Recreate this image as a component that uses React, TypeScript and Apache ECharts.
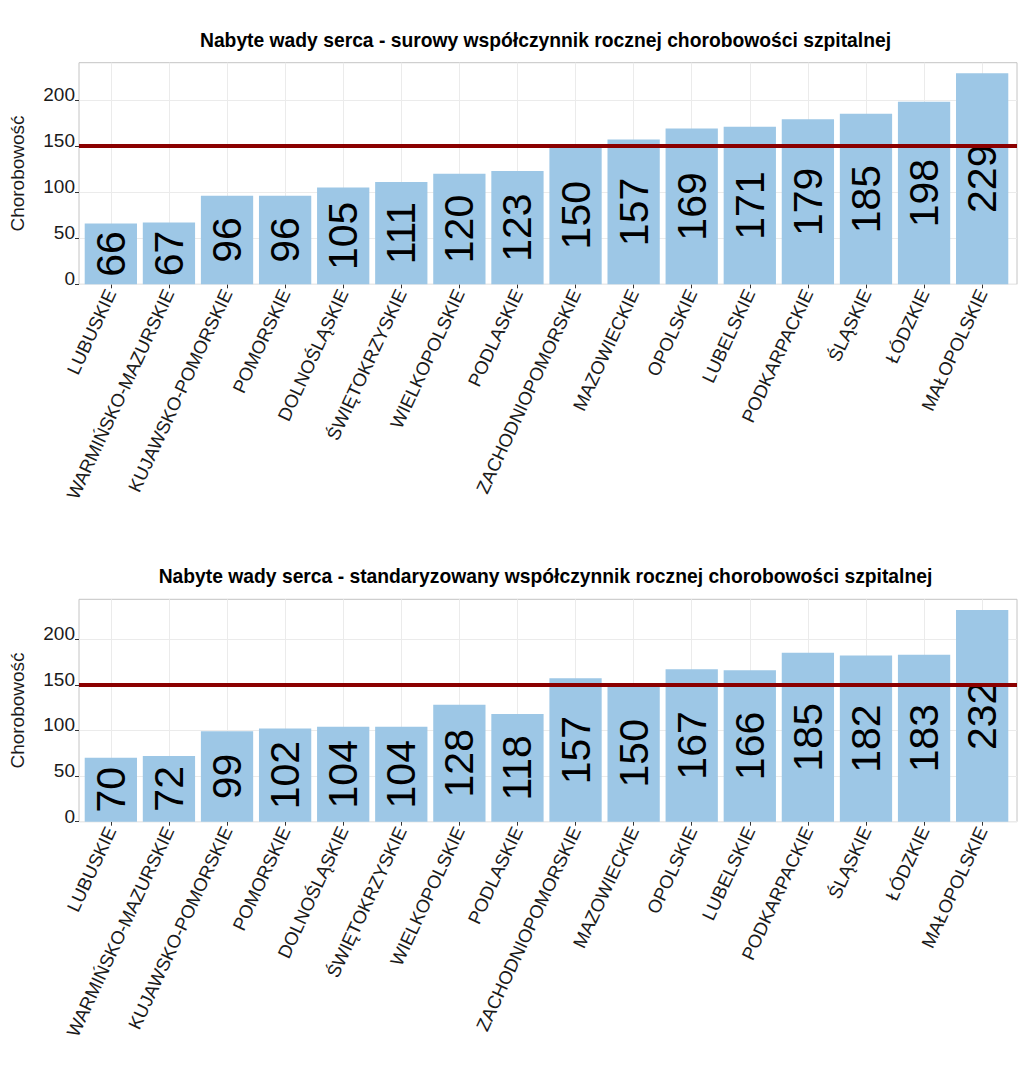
import React, { useEffect, useRef } from "react";
import * as echarts from "echarts";

const categories = [
  "LUBUSKIE",
  "WARMIŃSKO-MAZURSKIE",
  "KUJAWSKO-POMORSKIE",
  "POMORSKIE",
  "DOLNOŚLĄSKIE",
  "ŚWIĘTOKRZYSKIE",
  "WIELKOPOLSKIE",
  "PODLASKIE",
  "ZACHODNIOPOMORSKIE",
  "MAZOWIECKIE",
  "OPOLSKIE",
  "LUBELSKIE",
  "PODKARPACKIE",
  "ŚLĄSKIE",
  "ŁÓDZKIE",
  "MAŁOPOLSKIE",
];
const crudeValues = [66, 67, 96, 96, 105, 111, 120, 123, 150, 157, 169, 171, 179, 185, 198, 229];
const standardizedValues = [70, 72, 99, 102, 104, 104, 128, 118, 157, 150, 167, 166, 185, 182, 183, 232];
const yTicks = [0, 50, 100, 150, 200];
const referenceValue = 150;
const titleTop = "Nabyte wady serca - surowy współczynnik rocznej chorobowości szpitalnej";
const titleBottom = "Nabyte wady serca - standaryzowany współczynnik rocznej chorobowości szpitalnej";
const yName = "Chorobowość";

const FONT = "'Liberation Sans', Arial, Helvetica, sans-serif";
const BAR_COLOR = "#9dc7e6";
const RED = "#8b0000";
const GRID_COLOR = "#ebebeb";

const PLOT_LEFT = 76;
const PLOT_WIDTH = 941;
const BAND = PLOT_WIDTH / 16.2;

function panel(idx: number, top: number, height: number, values: number[], title: string) {
  const ymax = Math.max(...values) * 1.05;
  const gA = idx * 2;
  const gB = idx * 2 + 1;
  const grids = [
    { left: PLOT_LEFT, width: PLOT_WIDTH, top, height, show: true, borderColor: "#c4c4c4", borderWidth: 1, backgroundColor: "transparent" },
    { left: PLOT_LEFT + BAND * 0.1, width: PLOT_WIDTH - BAND * 0.2, top, height },
  ];
  const xAxes = [
    { gridIndex: gA, type: "value", min: 0, max: 1, show: false },
    {
      gridIndex: gB,
      type: "category",
      data: categories,
      axisLine: { show: false },
      axisTick: { show: true, alignWithLabel: true, length: 4, lineStyle: { color: "#333" } },
      splitLine: { show: false },
      axisLabel: { interval: 0, rotate: 65, fontSize: 18.5, color: "#1a1a1a", fontFamily: FONT, margin: 6 },
    },
  ];
  const yAxes = [
    {
      gridIndex: gA,
      type: "value",
      min: 0,
      max: ymax,
      interval: 50,
      name: yName,
      nameLocation: "middle",
      nameGap: 52,
      nameTextStyle: { fontSize: 19, color: "#1a1a1a", fontFamily: FONT },
      axisLine: { show: false },
      axisTick: { show: true, length: 4, lineStyle: { color: "#333" }, customValues: yTicks },
      axisLabel: {
        fontSize: 19,
        color: "#1a1a1a",
        fontFamily: FONT,
        margin: 4,
        verticalAlign: "bottom",
        lineHeight: 11,
        customValues: yTicks,
      },
      splitLine: { show: true, lineStyle: { color: GRID_COLOR, width: 1 } },
    },
    { gridIndex: gB, type: "value", min: 0, max: ymax, show: false },
  ];
  const series = [
    {
      type: "line",
      xAxisIndex: gB,
      yAxisIndex: gB,
      data: [],
      z: 1,
      silent: true,
      markLine: {
        silent: true,
        z: 1,
        symbol: ["none", "none"],
        label: { show: false },
        lineStyle: { color: GRID_COLOR, width: 1, type: "solid" },
        data: categories.map((c) => ({ xAxis: c })),
      },
    },
    {
      type: "bar",
      xAxisIndex: gB,
      yAxisIndex: gB,
      data: values,
      barCategoryGap: "10%",
      z: 2,
      itemStyle: { color: BAR_COLOR },
      label: {
        show: true,
        position: "inside",
        rotate: 90,
        fontSize: 41,
        color: "#000",
        fontFamily: FONT,
      },
    },
    {
      type: "line",
      xAxisIndex: gA,
      yAxisIndex: gA,
      data: [],
      z: 5,
      silent: true,
      markLine: {
        silent: true,
        z: 5,
        symbol: ["none", "none"],
        label: { show: false },
        lineStyle: { color: RED, width: 4, type: "solid" },
        data: [{ yAxis: referenceValue }],
      },
    },
  ];
  const titleOpt = {
    text: title,
    left: PLOT_LEFT + PLOT_WIDTH / 2 - 6,
    top: top - 37,
    textAlign: "center",
    textStyle: { fontSize: 19.3, fontWeight: "bold", color: "#000", fontFamily: FONT },
  };
  return { grids, xAxes, yAxes, series, titleOpt };
}

export default function App() {
  const ref = useRef<HTMLDivElement>(null);
  useEffect(() => {
    if (!ref.current) return;
    const chart = echarts.init(ref.current, null, { renderer: "svg" });
    const p1 = panel(0, 62.7, 221.6, crudeValues, titleTop);
    const p2 = panel(1, 599.3, 222.4, standardizedValues, titleBottom);
    chart.setOption({
      animation: false,
      backgroundColor: "#fff",
      title: [p1.titleOpt, p2.titleOpt],
      grid: [...p1.grids, ...p2.grids],
      xAxis: [...p1.xAxes, ...p2.xAxes],
      yAxis: [...p1.yAxes, ...p2.yAxes],
      series: [...p1.series, ...p2.series],
    });
    return () => chart.dispose();
  }, []);
  return <div ref={ref} style={{ position: "absolute", left: 0, top: 0, width: 1024, height: 1073 }} />;
}
